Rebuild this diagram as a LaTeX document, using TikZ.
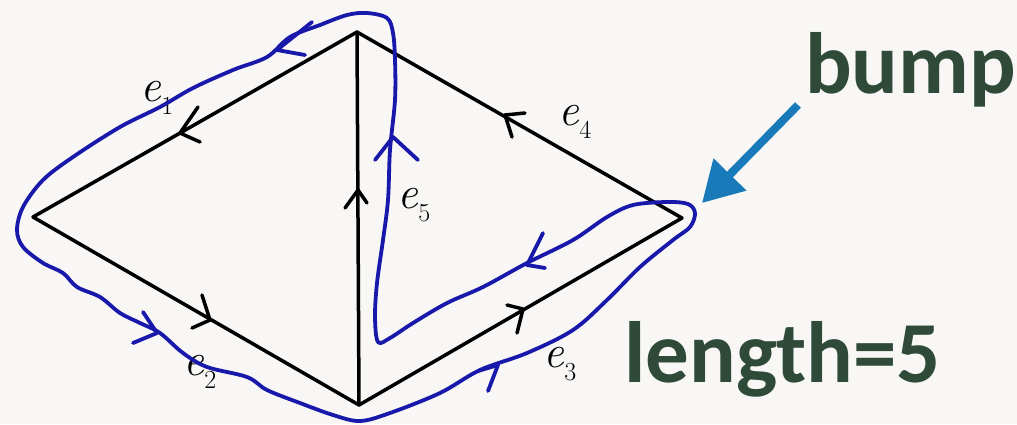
\documentclass[tikz,border=0pt]{standalone}
\usepackage{fontspec}
\newfontfamily\calib{Carlito}
\usetikzlibrary{arrows.meta}
\definecolor{bg}{RGB}{248,247,245}
\definecolor{walk}{RGB}{24,24,170}
\definecolor{bumpblue}{RGB}{25,122,186}
\definecolor{dgreen}{RGB}{47,74,56}
\newcommand{\elab}[1]{\itshape e\raisebox{-0.28em}{\fontsize{26}{26}\selectfont\upshape #1}}
\tikzset{
  edge/.style={line width=3.5pt, black, line cap=round},
  chev/.style={line width=3.5pt, black, line cap=round, line join=round},
  walkline/.style={line width=3.8pt, walk, line cap=round, line join=round},
  lab/.style={inner sep=0pt, font=\fontsize{46}{46}\selectfont},
  big/.style={inner sep=0pt, anchor=base west, text=dgreen, font=\calib\bfseries\fontsize{87}{87}\selectfont}
}
\begin{document}
\begin{tikzpicture}[x=1pt,y=-1pt]
\fill[bg] (0,0) rectangle (1017,424);
\useasboundingbox (0,0) rectangle (1017,424);
% vertices
\coordinate (L) at (33,217);
\coordinate (T) at (357,32);
\coordinate (B) at (359,405);
\coordinate (R) at (682,218);
% edges
\draw[edge] (T) -- (L);
\draw[edge] (L) -- (B);
\draw[edge] (B) -- (R);
\draw[edge] (R) -- (T);
\draw[edge] (B) -- (T);
% edge arrows
\draw[chev] (198,107) -- (180,133) -- (200,142);
\draw[chev] (202,295) -- (210,320) -- (192,328);
\draw[chev] (507,305) -- (523,309) -- (517,333);
\draw[chev] (525,113) -- (505,115) -- (512,137);
\draw[chev] (345,208) -- (358,190) -- (367,203);
% labels
\node[lab] (e1) at (157,98) {\elab{1}};
\node[lab] (e2) at (200,372) {\elab{2}};
\node[lab] (e3) at (560,364) {\elab{3}};
\node[lab] (e4) at (575,122) {\elab{4}};
\node[lab] (e5) at (414,205) {\elab{5}};
% walk
\draw[walkline] plot[smooth cycle, tension=0.55] coordinates {
 (393,33) (387,18) (367,13) (347,15) (320,25) (290,37) (267,57) (233,70)
 (193,88) (160,107) (120,127) (73,157) (43,180) (23,207) (17,230) (23,247)
 (43,263) (63,273) (77,287) (100,297) (120,313) (140,323) (160,333) (183,353)
 (207,367) (247,377) (267,390) (300,403) (333,415) (360,421) (390,413)
 (440,393) (480,370) (527,353) (573,330) (607,300) (640,267) (673,240)
 (690,227) (695,213) (688,204) (667,202) (633,205) (607,217) (573,240)
 (527,263) (483,287) (447,303) (413,323) (390,338) (378,342) (375,317)
 (377,283) (383,240) (388,200) (390,150) (395,100) (395,60) };
% walk arrows
\draw[walkline] (312,22) -- (277,50) -- (305,55);
\draw[walkline] (143,312) -- (157,333) -- (133,343);
\draw[walkline] (478,371) -- (498,365) -- (488,391);
\draw[walkline] (543,233) -- (527,265) -- (545,268);
\draw[walkline] (375,160) -- (393,137) -- (418,160);
% bump pointer
\node[big] (bump) at (805,93) {bump};
\node[big] (len) at (624,382) {length=5};
\coordinate (ptr) at (702,203);
\draw[bumpblue, line width=8pt, -{Triangle[length=40pt,width=44pt]}] (798,105) -- (ptr);
\end{tikzpicture}
\end{document}
